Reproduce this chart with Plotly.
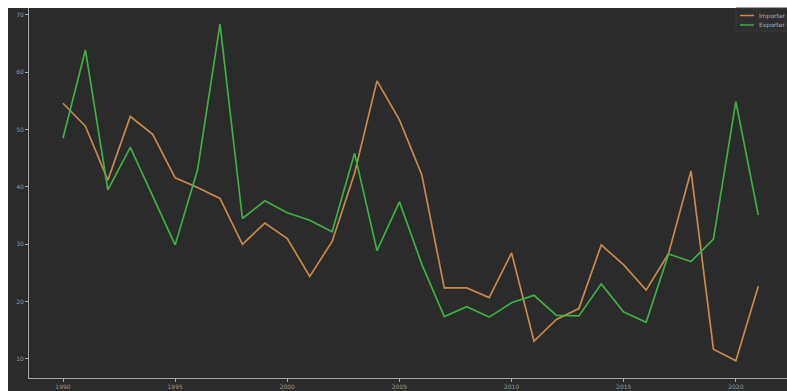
import plotly.graph_objects as go

# Yearly series, 1990-2021
years = list(range(1990, 2022))
importer = [54.6, 50.6, 41.2, 52.3, 49.2, 41.6, 39.9, 38.0, 30.0, 33.7,
            31.0, 24.4, 30.5, 42.4, 58.5, 51.7, 42.1, 22.4, 22.4, 20.7,
            28.5, 13.1, 16.9, 18.8, 29.9, 26.4, 22.0, 28.4, 42.8, 11.7,
            9.7, 22.7]
exporter = [48.5, 63.9, 39.5, 46.9, 38.4, 29.9, 43.0, 68.4, 34.5, 37.6,
            35.5, 34.2, 32.2, 45.9, 28.9, 37.4, 26.5, 17.4, 19.1, 17.3,
            19.8, 21.1, 17.6, 17.5, 23.1, 18.2, 16.4, 28.3, 27.0, 30.9,
            54.9, 35.1]

series_names = ["Importer", "Exporter"]
series_colors = ["#c68a4c", "#3fb045"]

x_ticks = [1990, 1995, 2000, 2005, 2010, 2015, 2020]
y_ticks = [10, 20, 30, 40, 50, 60, 70]

BG = "#2b2b2b"
AXIS = "#a8a8a8"
TEXT = "#9a9a9a"

W, H = 787, 391
L, R, T, B = 29, 0, 8, 13
pw, ph = W - L - R, H - T - B


def px_x(px):
    """Page pixel column -> paper x coordinate."""
    return (px - L) / pw


def px_y(py):
    """Page pixel row -> paper y coordinate."""
    return 1 - (py - T) / ph


fig = go.Figure()
for name, color, vals in zip(series_names, series_colors, [importer, exporter]):
    fig.add_trace(go.Scatter(x=years, y=vals, mode="lines", name=name,
                             line=dict(color=color, width=1.7)))

shapes = [
    # white border strips along the top and left edges of the page
    dict(type="rect", xref="paper", yref="paper", layer="above",
         x0=-L / pw - 0.01, x1=1.01, y0=1, y1=1 + T / ph + 0.01,
         fillcolor="white", line=dict(width=0)),
    dict(type="rect", xref="paper", yref="paper", layer="above",
         x0=-L / pw - 0.01, x1=-(L - 8) / pw, y0=-B / ph - 0.01, y1=1.05,
         fillcolor="white", line=dict(width=0)),
    # compact legend box in the upper right corner
    dict(type="rect", xref="paper", yref="paper", layer="above",
         x0=px_x(736), x1=px_x(788), y0=px_y(31), y1=px_y(8),
         fillcolor="#2e2e2e", line=dict(color="#3a3a3a", width=1)),
]
annotations = []
for i, (name, color) in enumerate(zip(series_names, series_colors)):
    row = 15.5 + i * 9.5
    shapes.append(dict(type="line", xref="paper", yref="paper", layer="above",
                       x0=px_x(740), x1=px_x(754), y0=px_y(row), y1=px_y(row),
                       line=dict(color=color, width=1.5)))
    annotations.append(dict(xref="paper", yref="paper", x=px_x(757),
                            y=px_y(row), xanchor="left", yanchor="middle",
                            text=name, showarrow=False,
                            font=dict(size=6, color="#b0b0b0")))

fig.update_layout(
    width=W, height=H,
    margin=dict(l=L, r=R, t=T, b=B, pad=0),
    paper_bgcolor=BG, plot_bgcolor=BG,
    font=dict(family="DejaVu Sans", size=6, color=TEXT),
    showlegend=False,
    xaxis=dict(range=[1988.484, 2022.28], tickvals=x_ticks,
               showgrid=False, zeroline=False,
               showline=True, linecolor=AXIS, linewidth=1,
               ticks="outside", ticklen=3, tickcolor=AXIS, tickwidth=1,
               tickfont=dict(size=6, color=TEXT)),
    yaxis=dict(range=[6.68, 71.22], tickvals=y_ticks,
               showgrid=False, zeroline=False,
               showline=True, linecolor=AXIS, linewidth=1,
               ticks="outside", ticklen=3, tickcolor=AXIS, tickwidth=1,
               tickfont=dict(size=6, color=TEXT)),
    shapes=shapes,
    annotations=annotations,
)

fig.write_html("out.html")
